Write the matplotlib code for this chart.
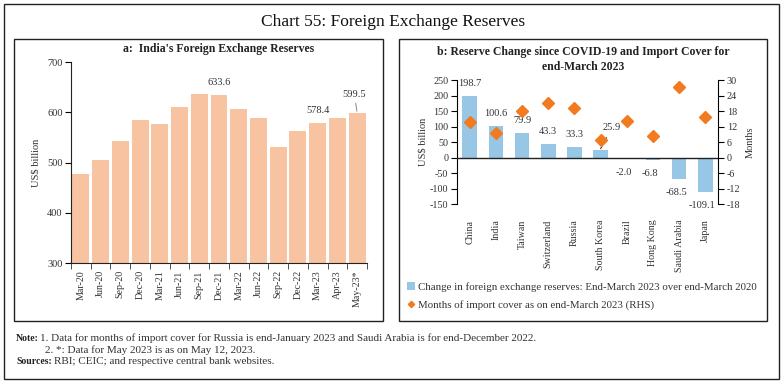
import matplotlib
matplotlib.use('Agg')
import matplotlib.pyplot as plt
from matplotlib.patches import Rectangle, Patch
from matplotlib.lines import Line2D
import numpy as np

plt.rcParams['font.family'] = ['Liberation Serif', 'DejaVu Serif']
plt.rcParams['axes.unicode_minus'] = False

# Panel a: India's reserves (US$ billion)
months = ['Mar-20', 'Jun-20', 'Sep-20', 'Dec-20', 'Mar-21', 'Jun-21', 'Sep-21', 'Dec-21',
          'Mar-22', 'Jun-22', 'Sep-22', 'Dec-22', 'Mar-23', 'Apr-23', 'May-23*']
reserves = [477.8, 506.0, 544.0, 585.5, 577.5, 611.5, 636.0, 633.6,
            607.5, 588.8, 531.5, 563.0, 578.4, 588.8, 599.5]
labelled = [7, 12, 14]

# Panel b: change in reserves and import cover
countries = ['China', 'India', 'Taiwan', 'Switzerland', 'Russia', 'South Korea',
             'Brazil', 'Hong Kong', 'Saudi Arabia', 'Japan']
reserve_change = [198.7, 100.6, 79.9, 43.3, 33.3, 25.9, -2.0, -6.8, -68.5, -109.1]
import_cover = [13.9, 9.7, 18.1, 21.0, 19.2, 7.0, 14.2, 8.4, 27.4, 15.8]

W, H = 784, 384
fig = plt.figure(figsize=(W / 100, H / 100), dpi=100)

def box(x0, y0, x1, y1):
    # rectangle in pixel coords (y from top)
    fig.add_artist(Rectangle((x0 / W, 1 - y1 / H), (x1 - x0) / W, (y1 - y0) / H,
                             transform=fig.transFigure, fill=False, lw=1.0, ec='#222222'))

def axes_px(x0, y0, x1, y1):
    return fig.add_axes([x0 / W, 1 - y1 / H, (x1 - x0) / W, (y1 - y0) / H])

box(4, 4, 779, 379)
box(14, 39, 383, 321)
box(399, 39, 767, 321)

fig.text(393 / W, 1 - 22 / H, 'Chart 55: Foreign Exchange Reserves', ha='center', va='center',
         fontsize=12.5, color='#111111')

txtc = '#333333'

# ---------------- panel a ----------------
ax1 = axes_px(71, 62, 367, 263.3)
x = np.arange(len(months))
ax1.bar(x, reserves, width=0.86, color='#F8C3A0', zorder=2)
ax1.set_ylim(300, 700)
ax1.set_xlim(-0.5, len(months) - 0.5)
ax1.set_yticks([300, 400, 500, 600, 700])
ax1.set_xticks(x)
ax1.set_xticklabels(months, rotation=90, fontsize=7.2, color=txtc)
ax1.set_xticks(np.arange(-0.5, len(months), 1), minor=True)
ax1.tick_params(axis='x', which='major', length=0, pad=5)
ax1.tick_params(axis='x', which='minor', length=4, direction='out', color='#333333')
ax1.tick_params(axis='y', length=4, direction='out', labelsize=7.5, labelcolor=txtc, pad=2)
for s in ['top', 'right']:
    ax1.spines[s].set_visible(False)
ax1.spines['left'].set_color('#222222')
ax1.spines['bottom'].set_color('#222222')
ax1.set_ylabel('US$ billion', fontsize=7.5, color=txtc, labelpad=5)
ax1.set_title("a:  India's Foreign Exchange Reserves", fontsize=8.5, fontweight='bold',
              color='#222222', pad=7)

for i in labelled:
    v = reserves[i]
    if i == len(months) - 1:
        ax1.annotate('%.1f' % v, xy=(i, v), xytext=(-2, 13), textcoords='offset points',
                     ha='center', va='center', fontsize=7.5, color=txtc,
                     arrowprops=dict(arrowstyle='-', color='#888888', lw=0.7,
                                     shrinkA=1, shrinkB=1))
    else:
        ax1.annotate('%.1f' % v, xy=(i, v), xytext=(0, 9), textcoords='offset points',
                     ha='center', va='center', fontsize=7.5, color=txtc)

# ---------------- panel b ----------------
ax2 = axes_px(456.7, 80, 718.3, 204.3)
xb = np.arange(len(countries))
ax2.bar(xb, reserve_change, width=0.56, color='#98C7E6', zorder=2)
ax2.set_ylim(-150, 250)
ax2.set_xlim(-0.5, len(countries) - 0.5)
ax2.set_yticks(np.arange(-150, 251, 50))
ax2.axhline(0, color='#222222', lw=1.0, zorder=3)
ax2.set_xticks(xb)
ax2.set_xticklabels(countries, rotation=90, fontsize=7.2, color=txtc)
ax2.tick_params(axis='x', length=0, pad=11)
ax2.tick_params(axis='y', length=4, direction='out', labelsize=7.3, labelcolor=txtc, pad=2)
for s in ['top', 'right', 'bottom']:
    ax2.spines[s].set_visible(False)
ax2.set_ylabel('US$ billion', fontsize=7.5, color=txtc, labelpad=2)

ax3 = ax2.twinx()
ax3.set_ylim(-18, 30)
ax3.set_yticks(np.arange(-18, 31, 6))
ax3.plot(xb, import_cover, linestyle='none', marker='D', markersize=6.5,
         color='#F27B22', zorder=4)
ax3.tick_params(axis='y', length=4, direction='out', labelsize=7.3, labelcolor=txtc, pad=2)
for s in ['top', 'left', 'bottom']:
    ax3.spines[s].set_visible(False)
ax3.set_ylabel('Months', fontsize=7.5, color=txtc, labelpad=4)

for i, v in enumerate(reserve_change):
    if countries[i] == 'South Korea':
        ax2.annotate('%.1f' % v, xy=(i, v + 3), xytext=(8, 15), textcoords='offset points',
                     ha='center', va='center', fontsize=7.5, color=txtc,
                     arrowprops=dict(arrowstyle='-', color='#222222', lw=0.7,
                                     shrinkA=2, shrinkB=0))
    elif v >= 0:
        ax2.annotate('%.1f' % v, xy=(i, v), xytext=(0, 9), textcoords='offset points',
                     ha='center', va='center', fontsize=7.5, color=txtc)
    else:
        dy = -10
        ax2.annotate('%.1f' % v, xy=(i, v), xytext=(-2, dy), textcoords='offset points',
                     ha='center', va='center', fontsize=7.5, color=txtc)

fig.text(583 / W, 1 - 59.5 / H,
         'b: Reserve Change since COVID-19 and Import Cover for\nend-March 2023',
         ha='center', va='center', fontsize=8.5, fontweight='bold', color='#222222',
         linespacing=1.25)

handles = [Patch(facecolor='#98C7E6', edgecolor='none'),
           Line2D([], [], linestyle='none', marker='D', markersize=3.2, color='#F27B22')]
labels = ['Change in foreign exchange reserves: End-March 2023 over end-March 2020',
          'Months of import cover as on end-March 2023 (RHS)']
fig.legend(handles, labels, loc='upper left', bbox_to_anchor=(407 / W, 1 - 282 / H),
           frameon=False, fontsize=7.8, handlelength=0.7, handleheight=0.7,
           handletextpad=0.3, labelspacing=0.75, borderpad=0, borderaxespad=0,
           labelcolor=txtc)

# ---------------- notes ----------------
fb, fr = 7, 8
fig.text(16 / W, 1 - 338.5 / H, 'Note:', fontsize=fb, fontweight='bold', va='center', color='#222222')
fig.text(40 / W, 1 - 338.5 / H,
         '1. Data for months of import cover for Russia is end-January 2023 and Saudi Arabia is for end-December 2022.',
         fontsize=fr, va='center', color=txtc)
fig.text(45 / W, 1 - 350 / H, '2. *: Data for May 2023 is as on May 12, 2023.',
         fontsize=fr, va='center', color=txtc)
fig.text(16 / W, 1 - 362 / H, 'Sources:', fontsize=fb, fontweight='bold', va='center', color='#222222')
fig.text(54 / W, 1 - 362 / H, 'RBI; CEIC; and respective central bank websites.',
         fontsize=fr, va='center', color=txtc)

fig.savefig('out.png', dpi=100)
